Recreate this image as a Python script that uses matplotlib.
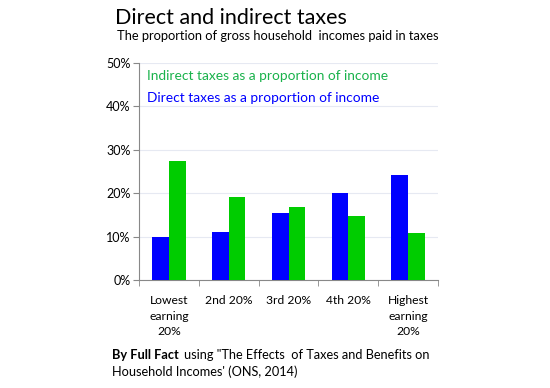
import numpy as np
import matplotlib.pyplot as plt

categories = ["Lowest\nearning\n20%", "2nd 20%", "3rd 20%", "4th 20%", "Highest\nearning\n20%"]
direct = [10.0, 11.0, 15.5, 20.0, 24.2]
indirect = [27.5, 19.2, 16.9, 14.8, 10.9]

plt.rcParams['font.family'] = ['Lato', 'DejaVu Sans']

fig = plt.figure(figsize=(5.5, 3.88), dpi=100)
ax = fig.add_axes([139/550, 1 - 280/388, 299/550, 217/388])

x = np.arange(len(categories))
w = 0.28
ax.bar(x - w/2, direct, w, color="#0000ff", zorder=3)
ax.bar(x + w/2, indirect, w, color="#00cc00", zorder=3)

ax.set_xlim(-0.5, len(categories) - 0.5)
ax.set_ylim(0, 50)
ax.set_yticks(range(0, 51, 10))
ax.set_yticklabels([f"{v}%" for v in range(0, 51, 10)], fontsize=9)
ax.yaxis.grid(True, color="#e6e9f2", lw=0.8, zorder=0)

ax.set_xticks(x)
ax.set_xticklabels(categories, fontsize=8.7, linespacing=1.5)
ax.set_xticks(np.arange(-0.5, len(categories)), minor=True)
ax.tick_params(axis='x', which='major', length=0, pad=11)
ax.tick_params(axis='x', which='minor', length=4, color="#888888")
ax.tick_params(axis='y', length=4, color="#888888", pad=2)

for s in ['top', 'right']:
    ax.spines[s].set_visible(False)
for s in ['left', 'bottom']:
    ax.spines[s].set_color("#888888")

ax.text(0.027, 0.94, "Indirect taxes as a proportion of income", color="#19b24b",
        fontsize=9.9, transform=ax.transAxes, va='center')
ax.text(0.027, 0.84, "Direct taxes as a proportion of income", color="#0000ff",
        fontsize=9.9, transform=ax.transAxes, va='center')

fig.text(115/550, 1 - 18/388, "Direct and indirect taxes", fontsize=15.5, va='center')
fig.text(117/550, 1 - 36/388, "The proportion of gross household  incomes paid in taxes",
         fontsize=9.3, va='center')

fig.text(112/550, 1 - 355/388, "By Full Fact", fontsize=9.2, fontweight='bold', va='center')
fig.text(184/550, 1 - 355/388, "using \"The Effects  of Taxes and Benefits on", fontsize=9.2, va='center')
fig.text(112/550, 1 - 372/388, "Household Incomes' (ONS, 2014)", fontsize=9.2, va='center')

fig.savefig("out.png", dpi=100)
